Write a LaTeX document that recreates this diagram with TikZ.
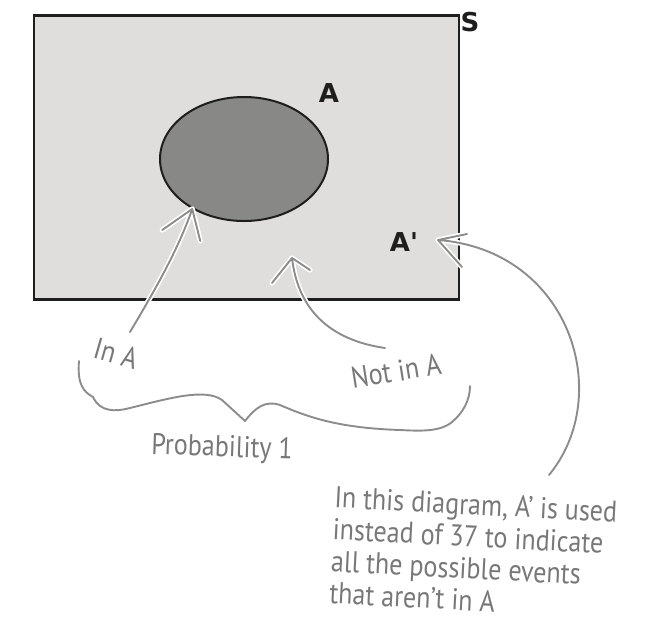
\documentclass[tikz,border=0pt]{standalone}
\usepackage{fontspec}
\usetikzlibrary{shapes.geometric}
\newfontfamily\lblfont{DejaVu Sans}
\newfontfamily\handfont{PT Sans}[FakeStretch=0.87]
\definecolor{setfill}{RGB}{223,222,221}
\definecolor{evfill}{RGB}{136,136,135}
\definecolor{ink}{RGB}{30,30,30}
\definecolor{pen}{RGB}{140,140,140}
\definecolor{pentext}{RGB}{120,120,120}
\begin{document}
\begin{tikzpicture}[x=1pt,y=-1pt,
  hand/.style={draw=pen, line width=1.9pt, line cap=round, line join=round,
    preaction={draw=white, line width=5.2pt, line cap=round, line join=round}},
  bracepath/.style={draw=pen, line width=1.9pt, line cap=round, line join=round},
  setlbl/.style={font=\lblfont\bfseries\fontsize{26}{26}\selectfont, text=ink, inner sep=0pt},
  handtxt/.style={font=\handfont\fontsize{30}{32}\selectfont, text=pentext, inner sep=0pt},
]
\useasboundingbox (0,0) rectangle (650,641);
% sample space and event
\node[draw=ink, line width=2.6pt, fill=setfill, minimum width=425pt, minimum height=284pt,
      inner sep=0pt, anchor=north west] (S) at (32.5,14) {};
\node[ellipse, draw=ink, line width=2pt, fill=evfill, minimum width=168pt, minimum height=124pt,
      inner sep=0pt] (E) at (244,159) {};
\node[setlbl] (Slbl) at (470,22) {S};
\node[setlbl] (Albl) at (329,93) {A};
\node[setlbl] (Aplbl) at (404,242) {A'};
% handwritten labels
\node[handtxt, rotate=-16] (inA) at (116,353) {In A};
\node[handtxt, rotate=9] (notA) at (396,371) {Not in A};
\node[handtxt, rotate=-2] (prob) at (222,449) {Probability 1};
\node[handtxt, rotate=-3, align=left, anchor=north west] (note) at (335,486)
  {In this diagram, A’ is used\\instead of 37 to indicate\\all the possible events\\that aren’t in A};
% arrows
\coordinate (inAtail) at (130,332);
\coordinate (inAtip) at (E.224);
\draw[hand] (inAtail) .. controls (155,290) and (178,250) .. (inAtip)
  (inAtip) -- +(-30,21) (inAtip) -- +(8,32);
\coordinate (notAtail) at (385,348);
\coordinate (notAtip) at (292,258);
\draw[hand] (notAtail) .. controls (330,340) and (298,310) .. (notAtip)
  (notAtip) -- +(-20,25) (notAtip) -- +(18,12);
\coordinate (Aptail) at (549,475);
\coordinate (Aptip) at (438,240);
\draw[hand] (Aptail) .. controls (615,395) and (570,250) .. (Aptip)
  (Aptip) -- +(29,-6) (Aptip) -- +(24,27);
% brace
\draw[bracepath] (79,361) .. controls (77,385) and (84,392) .. (93,397)
  .. controls (100,412) and (115,412) .. (130,408)
  .. controls (170,398) and (205,388) .. (222,400) -- (245,421)
  .. controls (255,408) and (265,400) .. (280,405)
  .. controls (310,418) and (340,428) .. (400,430)
  .. controls (420,431) and (440,432) .. (452,422)
  .. controls (463,413) and (470,400) .. (470,386);
\end{tikzpicture}
\end{document}
